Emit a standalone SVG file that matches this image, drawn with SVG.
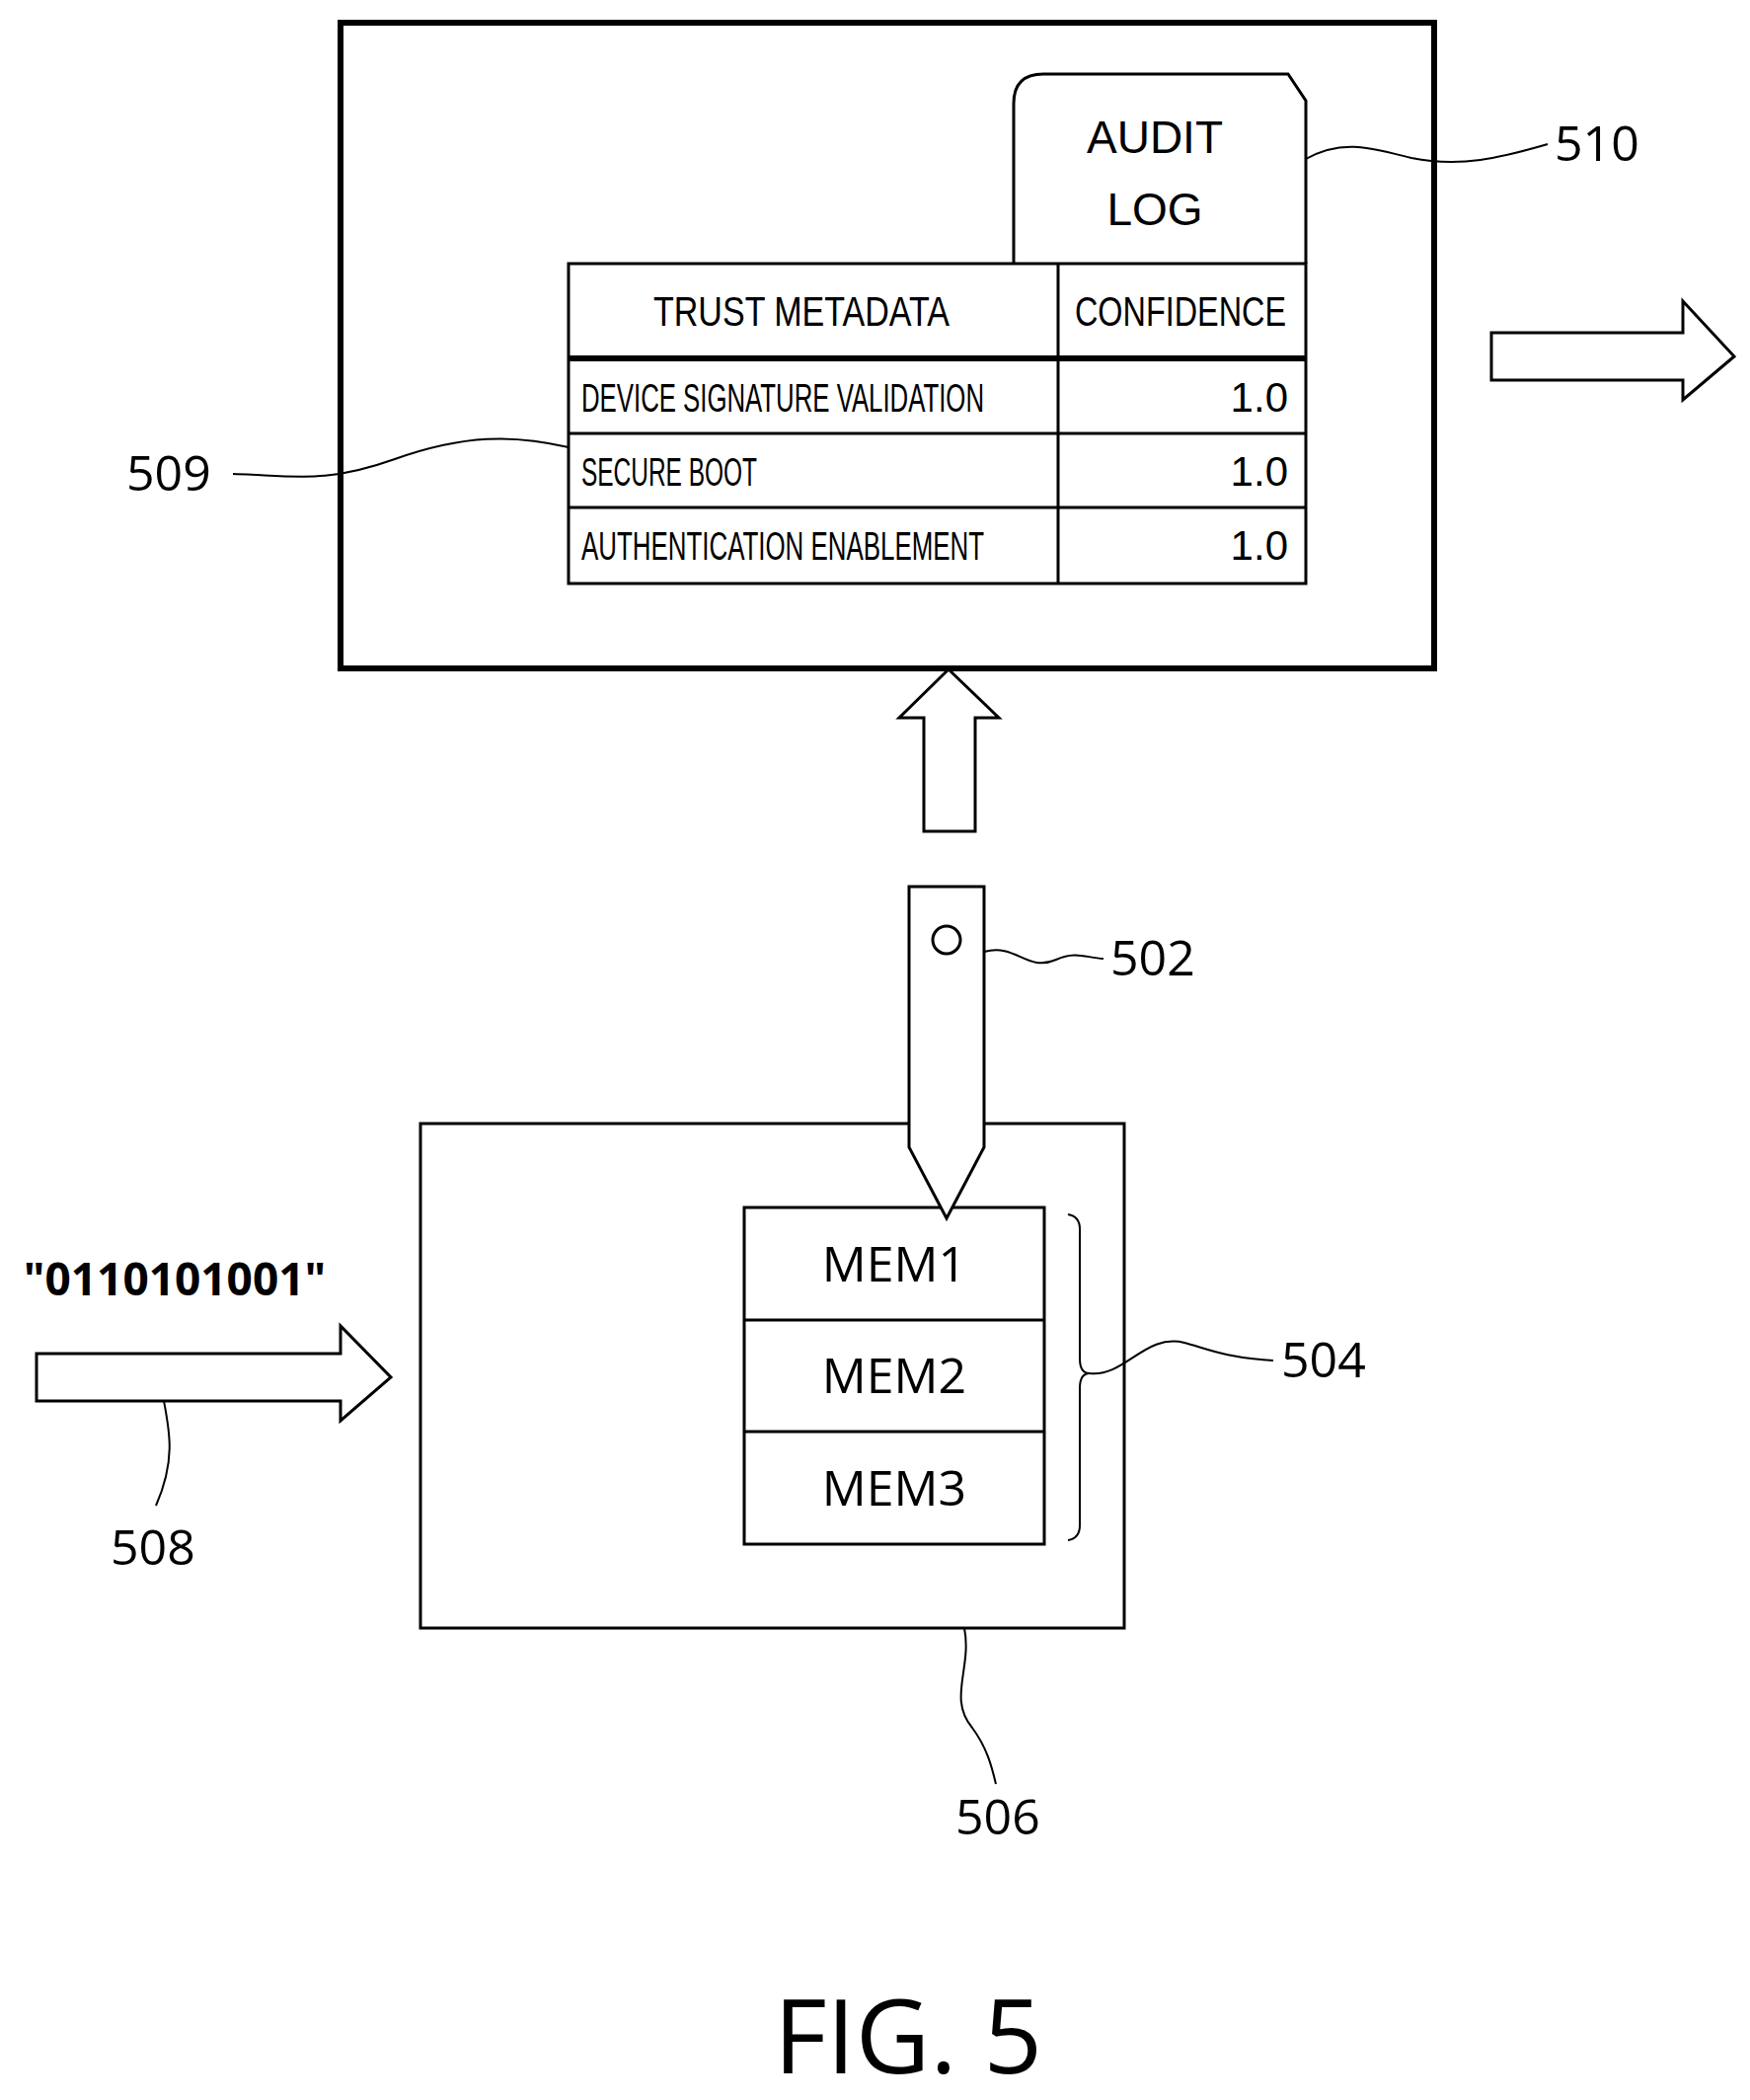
<svg xmlns="http://www.w3.org/2000/svg" width="1773" height="2127" viewBox="0 0 1773 2127">
<style>
.s{fill:none;stroke:#000;stroke-width:3}
.w{fill:#fff;stroke:#000;stroke-width:3}
.t{font-family:"Liberation Sans Narrow","Liberation Sans",sans-serif;fill:#000}
.l{font-family:"Open Sans","DejaVu Sans",sans-serif;font-size:50px;fill:#000}
.ld{fill:none;stroke:#000;stroke-width:2}
</style>
<rect width="1773" height="2127" fill="#fff"/>
<g id="n500">
<rect x="345" y="23" width="1108" height="654" fill="#fff" stroke="#000" stroke-width="6"/>
</g>
<g id="n510">
<path class="w" d="M1027 267 V105 Q1027 75 1057 75 H1305 L1323 102 V267"/>
<text class="t" x="1170" y="155" font-size="46" text-anchor="middle">AUDIT</text>
<text class="t" x="1170" y="228" font-size="46" text-anchor="middle">LOG</text>
</g>
<g id="n509">
<rect class="w" x="576" y="267" width="747" height="324"/>
<line class="s" x1="1072" y1="267" x2="1072" y2="591"/>
<line x1="576" y1="363" x2="1323" y2="363" stroke="#000" stroke-width="6"/>
<line class="s" x1="576" y1="439" x2="1323" y2="439"/>
<line class="s" x1="576" y1="514" x2="1323" y2="514"/>
<text class="t" x="812" y="330" font-size="42" text-anchor="middle" textLength="300" lengthAdjust="spacingAndGlyphs">TRUST METADATA</text>
<text class="t" x="1196" y="330" font-size="42" text-anchor="middle" textLength="214" lengthAdjust="spacingAndGlyphs">CONFIDENCE</text>
<text class="t" x="589" y="417" font-size="40" textLength="408" lengthAdjust="spacingAndGlyphs">DEVICE SIGNATURE VALIDATION</text>
<text class="t" x="589" y="492" font-size="40" textLength="178" lengthAdjust="spacingAndGlyphs">SECURE BOOT</text>
<text class="t" x="589" y="567" font-size="40" textLength="408" lengthAdjust="spacingAndGlyphs">AUTHENTICATION ENABLEMENT</text>
<text class="t" x="1305" y="417" font-size="42" text-anchor="end">1.0</text>
<text class="t" x="1305" y="492" font-size="42" text-anchor="end">1.0</text>
<text class="t" x="1305" y="567" font-size="42" text-anchor="end">1.0</text>
</g>
<g id="n506">
<rect class="w" x="426" y="1138" width="713" height="511"/>
</g>
<g id="n504">
<rect class="w" x="754" y="1223" width="304" height="341"/>
<line class="s" x1="754" y1="1337" x2="1058" y2="1337"/>
<line class="s" x1="754" y1="1450" x2="1058" y2="1450"/>
<text class="l" x="906" y="1298" text-anchor="middle">MEM1</text>
<text class="l" x="906" y="1411" text-anchor="middle">MEM2</text>
<text class="l" x="906" y="1525" text-anchor="middle">MEM3</text>
<path class="ld" d="M1082 1230 Q1094 1232 1094 1245 V1376 Q1094 1391 1104 1391 Q1094 1391 1094 1406 V1545 Q1094 1558 1082 1560"/>
</g>
<g id="n502">
<path class="w" d="M921 898 H997 V1162 L959 1234 L921 1162 Z"/>
<circle class="s" cx="959" cy="952" r="14"/>
</g>
<g id="connectors">
<path class="w" d="M1511 337 H1705 V305 L1757 361 L1705 405 V385 H1511 Z"/>
<path class="w" d="M936 842 V727 H911 L961 678 L1012 727 H988 V842 Z"/>
<path class="w" d="M37 1371 H345 V1343 L396 1395 L345 1439 V1419 H37 Z"/>
<path class="ld" d="M997 964 C1030 955 1040 985 1070 972 C1090 963 1100 970 1118 971"/>
<path class="ld" d="M1104 1391 C1140 1395 1160 1350 1200 1360 C1220 1365 1240 1375 1290 1378"/>
<path class="ld" d="M166 1419 C172 1450 178 1480 158 1525"/>
<path class="ld" d="M977 1649 C985 1690 960 1720 985 1750 C1000 1770 1005 1790 1009 1807"/>
<path class="ld" d="M236 480 C300 482 330 490 400 465 C470 440 520 440 576 453"/>
<path class="ld" d="M1323 161 C1360 140 1390 150 1430 160 C1480 170 1520 160 1568 146"/>
</g>
<g id="labels">
<text class="l" x="1125" y="988">502</text>
<text class="l" x="1298" y="1395">504</text>
<text class="l" x="968" y="1858">506</text>
<text class="l" x="112" y="1585">508</text>
<text class="l" x="128" y="497">509</text>
<text class="l" x="1575" y="163">510</text>
<text x="177" y="1312" font-family="'Open Sans','DejaVu Sans',sans-serif" font-size="46" font-weight="bold" text-anchor="middle">"0110101001"</text>
<text x="920" y="2100" font-family="'Open Sans','DejaVu Sans',sans-serif" font-size="104" text-anchor="middle">FIG. 5</text>
</g>
</svg>
